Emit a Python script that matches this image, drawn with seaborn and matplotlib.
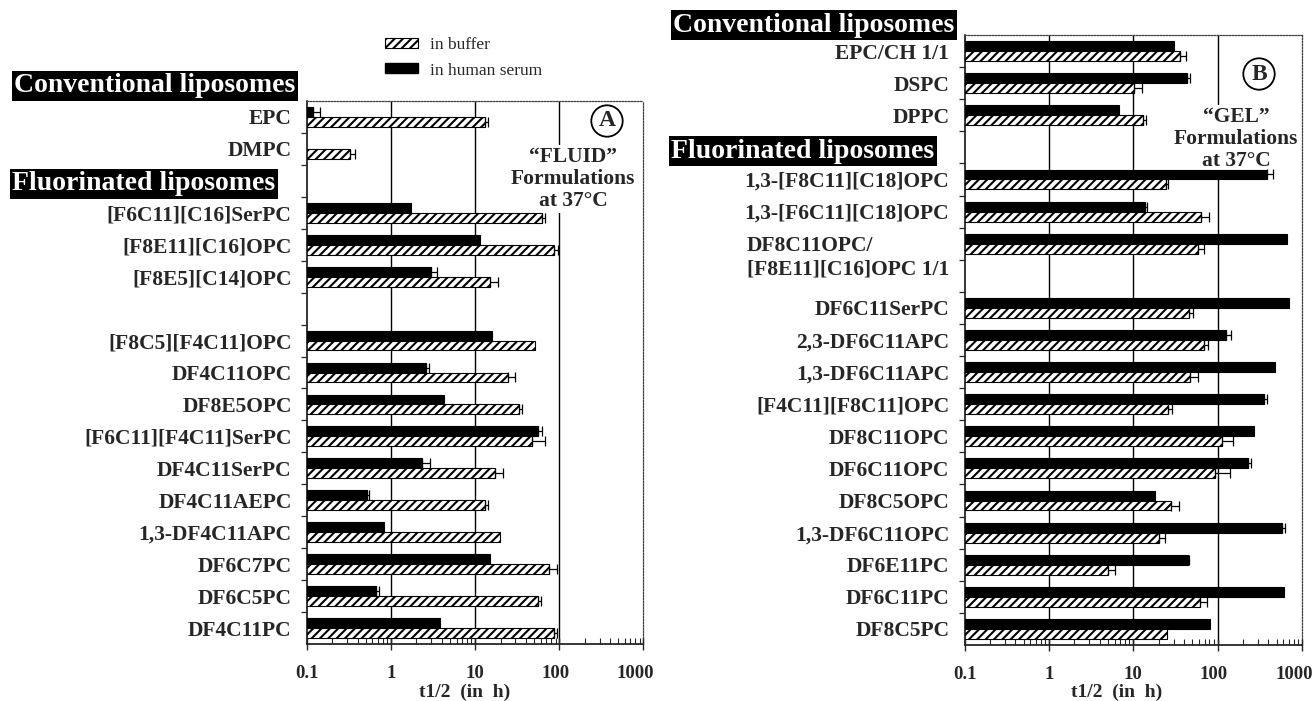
import numpy as np
import pandas as pd
import matplotlib
matplotlib.use("Agg")
import matplotlib.pyplot as plt
from matplotlib.patches import Patch
from matplotlib.container import BarContainer
from matplotlib.ticker import LogLocator, NullFormatter
from matplotlib.transforms import ScaledTranslation
import seaborn as sns

nan = np.nan

# ---------------- data: panel A ("FLUID" formulations) ----------------
a_labels = ["EPC", "DMPC", "", "[F6C11][C16]SerPC", "[F8E11][C16]OPC", "[F8E5][C14]OPC", "",
            "[F8C5][F4C11]OPC", "DF4C11OPC", "DF8E5OPC", "[F6C11][F4C11]SerPC", "DF4C11SerPC",
            "DF4C11AEPC", "1,3-DF4C11APC", "DF6C7PC", "DF6C5PC", "DF4C11PC"]
a_serum = [0.119, nan, nan, 1.74, 11.5, 2.99, nan, 15.8, 2.57, 4.2, 56.2, 2.32, 0.519, 0.822, 15.0, 0.653, 3.76]
a_serum_sd = [0.022, nan, nan, nan, nan, 0.48, nan, nan, 0.25, nan, 6.8, 0.56, 0.02, nan, nan, 0.055, nan]
a_buffer = [12.9, 0.324, nan, 61.7, 87.0, 15.0, nan, 51.9, 24.5, 32.7, 47.9, 17.0, 12.9, 19.7, 75.0, 56.2, 87.0]
a_buffer_sd = [1.2, 0.043, nan, 5.1, 9.6, 3.8, nan, nan, 5.4, 3.6, 18.9, 4.4, 1.2, nan, 19.4, 4.8, 7.4]

# ---------------- data: panel B ("GEL" formulations) ----------------
b_labels = ["EPC/CH 1/1", "DSPC", "DPPC", "", "1,3-[F8C11][C18]OPC", "1,3-[F6C11][C18]OPC",
            "DF8C11OPC/\n[F8E11][C16]OPC 1/1", "", "DF6C11SerPC", "2,3-DF6C11APC", "1,3-DF6C11APC",
            "[F4C11][F8C11]OPC", "DF8C11OPC", "DF6C11OPC", "DF8C5OPC", "1,3-DF6C11OPC",
            "DF6E11PC", "DF6C11PC", "DF8C5PC"]
b_serum = [30.1, 43.3, 6.74, nan, 388, 13.8, 656, nan, 710, 124, 476, 358, 269, 232, 18.0, 585, 44.3, 612, 81.0]
b_serum_sd = [nan, 3.7, nan, nan, 62, 0.9, nan, nan, nan, 19.5, nan, 30, nan, 16, nan, 49, 1.6, nan, nan]
b_buffer = [35.3, 10.2, 13.1, nan, 24.5, 63.1, 57.7, nan, 45.9, 68.4, 47.5, 25.9, 114, 93.0, 28.1, 20.2, 5.07, 61.1, 25.4]
b_buffer_sd = [7.1, 2.4, 1.2, nan, 1.4, 15.4, 10.7, nan, 5.6, 8.3, 10.2, 3.2, 38, 46, 6.4, 3.5, 0.95, 13, nan]

media = ["in human serum", "in buffer"]
legend_order = ["in buffer", "in human serum"]
x_ticks = [0.1, 1, 10, 100, 1000]
x_ticklabels = ["0.1", "1", "10", "100", "1000"]
grid_x = [1, 10, 100]

SERIF = ["Liberation Serif", "DejaVu Serif"]
sns.set_theme(style="white")
plt.rcParams["font.family"] = SERIF
plt.rcParams["hatch.linewidth"] = 1.5
plt.rcParams["hatch.color"] = "black"

W, H = 1316, 701
fig = plt.figure(figsize=(W / 100, H / 100), dpi=100)


def fx(x):
    return x / W


def fy(y):
    return 1 - y / H


BAR_W = 0.62
HATCH = "////"
LABEL_FS = 15.5


def draw_panel(rect, labels, serum, serum_sd, buffer, buffer_sd, label_shift, xlab_xy):
    ax = fig.add_axes(rect)
    ax.set_xscale("log", nonpositive="clip")
    keys = [lab if lab else f"gap{i}" for i, lab in enumerate(labels)]
    rows = []
    sd_map = {}
    for k, s, ssd, b, bsd in zip(keys, serum, serum_sd, buffer, buffer_sd):
        if not np.isnan(s):
            rows.append((k, media[0], s))
            sd_map[(k, media[0])] = ssd
        if not np.isnan(b):
            rows.append((k, media[1], b))
            sd_map[(k, media[1])] = bsd
    df = pd.DataFrame(rows, columns=["formulation", "medium", "t_half"])
    sns.barplot(data=df, x="t_half", y="formulation", hue="medium", order=keys,
                hue_order=media, palette={media[0]: "black", media[1]: "white"},
                orient="h", width=BAR_W, errorbar=None, saturation=1,
                edgecolor="black", linewidth=0.8, legend=False, ax=ax)
    ax.set_xscale("log", nonpositive="clip")
    # hatch the buffer bars and add the one-sided error bars
    bar_conts = [c for c in ax.containers if isinstance(c, BarContainer)]
    for cont in bar_conts:
        for p in list(cont.patches):
            yc = p.get_y() + p.get_height() / 2
            idx = int(round(yc))
            fc = p.get_facecolor()
            med = media[1] if fc[0] > 0.5 else media[0]
            if med == media[1]:
                p.set_hatch(HATCH)
            val = p.get_x() + p.get_width()
            sd = sd_map.get((keys[idx], med), nan)
            if not np.isnan(sd):
                ax.errorbar([val], [yc], xerr=[[0], [sd]], fmt="none", ecolor="black",
                            elinewidth=0.9, capsize=3.5, capthick=0.9, zorder=5)
    ax.set_xlim(0.1, 1000)
    ax.set_ylim(len(keys) - 0.5, -0.5)
    ax.vlines(grid_x, 0, 1, transform=ax.get_xaxis_transform(), colors="black",
              linewidth=1.0, zorder=0.5)
    ax.set_facecolor("white")
    ax.set_axisbelow(False)
    # x axis
    ax.set_xticks(x_ticks, x_ticklabels)
    ax.xaxis.set_minor_locator(LogLocator(base=10, subs=np.arange(2, 10)))
    ax.xaxis.set_minor_formatter(NullFormatter())
    ax.tick_params(axis="x", which="major", direction="inout", length=8, width=1,
                   bottom=True, pad=11, labelsize=13.5)
    ax.tick_params(axis="x", which="minor", direction="in", length=4, width=0.8, bottom=True)
    for t in ax.get_xticklabels():
        t.set_fontweight("bold")
    ax.set_xlabel("t1/2  (in  h)", fontsize=14, fontweight="bold")
    ax.xaxis.set_label_coords(*xlab_xy)
    # y axis: labels at pairs, small ticks at category boundaries
    pos = [i + label_shift.get(i, 0) for i, lab in enumerate(labels) if lab]
    txt = [lab for lab in labels if lab]
    ax.set_yticks(pos, txt)
    ax.set_yticks(np.arange(len(keys) - 1) + 0.5, minor=True)
    ax.tick_params(axis="y", which="major", length=0, pad=11, labelsize=LABEL_FS)
    ax.tick_params(axis="y", which="minor", direction="out", length=4, width=0.9, left=True)
    for t in ax.get_yticklabels():
        t.set_fontweight("bold")
        t.set_multialignment("left")
    ax.set_ylabel("")
    for s in ["left", "bottom"]:
        ax.spines[s].set_color("black")
        ax.spines[s].set_linewidth(1.1)
    for s in ["top", "right"]:
        ax.spines[s].set_color("0.25")
        ax.spines[s].set_linewidth(0.9)
        ax.spines[s].set_linestyle((0, (1.2, 1.2)))
    # nudge the "100"/"1000" labels left as in the original
    shifts = {"100": -4, "1000": -8}
    for t in ax.get_xticklabels():
        if t.get_text() in shifts:
            t.set_transform(t.get_transform() +
                            ScaledTranslation(shifts[t.get_text()] / 100, 0, fig.dpi_scale_trans))
    return ax


axA = draw_panel([fx(307), fy(644), fx(643.5) - fx(307), fy(101) - fy(644)],
                 a_labels, a_serum, a_serum_sd, a_buffer, a_buffer_sd, {},
                 (0.467, -0.073))
axB = draw_panel([fx(964.6), fy(645), fx(1302) - fx(964.6), fy(35) - fy(645)],
                 b_labels, b_serum, b_serum_sd, b_buffer, b_buffer_sd, {6: 0.31},
                 (0.452, -0.064))

# section headings
head_kw = dict(ha="center", va="center", color="white", fontsize=20, fontweight="bold",
               bbox=dict(boxstyle="square,pad=0.08", fc="black", ec="none"))
fig.text(fx(155), fy(86), "Conventional liposomes", **head_kw)
fig.text(fx(144), fy(184), "Fluorinated liposomes", **head_kw)
fig.text(fx(814), fy(25), "Conventional liposomes", **head_kw)
fig.text(fx(803), fy(151), "Fluorinated liposomes", **head_kw)

# panel annotations
circ_kw = dict(ha="center", va="center", fontsize=17, fontweight="bold",
               bbox=dict(boxstyle="circle,pad=0.22", fc="white", ec="black", lw=1.3))
fig.text(fx(607), fy(121), "A", **circ_kw)
fig.text(fx(1259), fy(74), "B", **circ_kw)
# notes sit above the grid lines but below the bars
note_kw = dict(ha="center", va="center", fontsize=15.5, fontweight="bold", linespacing=1.12,
               transform=fig.transFigure, zorder=0.8,
               bbox=dict(boxstyle="square,pad=0.12", fc="white", ec="none"))
axA.text(fx(573), fy(179), "\u201cFLUID\u201d\nFormulations\nat 37\u00b0C", **note_kw)
axB.text(fx(1236), fy(139), "\u201cGEL\u201d\nFormulations\nat 37\u00b0C", **note_kw)

# legend
handles = [Patch(facecolor="white", edgecolor="black", hatch=HATCH, linewidth=0.8),
           Patch(facecolor="black", edgecolor="black")]
fig.legend(handles, legend_order, loc="upper left", bbox_to_anchor=(fx(385), fy(37)),
           frameon=False, prop=dict(family=SERIF, size=12.5), handlelength=1.9,
           handleheight=0.5, handletextpad=0.7, labelspacing=0.55, borderpad=0,
           borderaxespad=0)

fig.savefig("out.png", dpi=100)
